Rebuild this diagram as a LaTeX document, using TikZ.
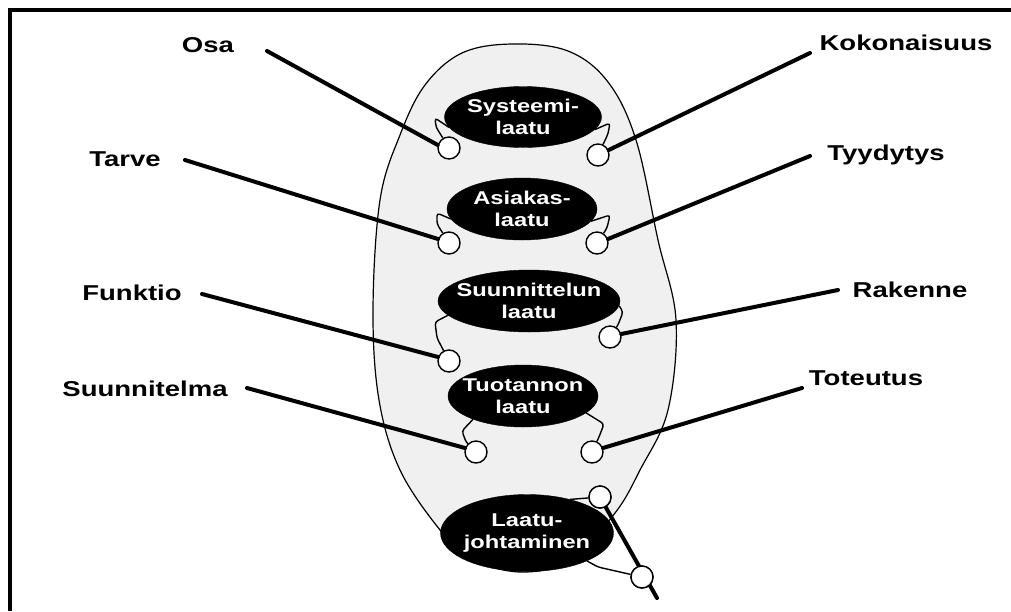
\documentclass[tikz,border=0pt]{standalone}
\usepackage{fontspec}
\setmainfont{Liberation Sans}
\usetikzlibrary{shapes.geometric}
\tikzset{
  lbl/.style={font=\fontsize{21.5}{21.5}\selectfont\bfseries, inner sep=0pt},
  inn/.style={font=\fontsize{18.5}{22}\selectfont\bfseries, text=white, align=center, inner sep=0pt},
  blob/.style={ellipse, fill=black, draw=black, inner sep=0pt},
  knob/.style={circle, draw=black, fill=white, line width=1.4pt, minimum size=22pt, inner sep=0pt},
  arm/.style={line width=4pt, line cap=round},
  wig/.style={line width=1.4pt, rounded corners=3pt},
}
\newcommand{\wid}[1]{\scalebox{1.28}[1]{#1}}
\begin{document}
\begin{tikzpicture}[x=1pt,y=-1pt]
\useasboundingbox (0,0) rectangle (1011,611);
% frame
\draw[line width=3.3pt] (10,611) -- (10,10) -- (1011,10);
% big outline
\filldraw[fill=gray!12, draw=black, line width=1.2pt] plot[smooth cycle, tension=0.6] coordinates {
 (512,44) (568,51) (608,82) (636,140) (658,240) (676,320) (668,410) (640,470)
 (615,513) (570,560) (520,572) (470,558) (440,530) (400,470) (379,400) (373,310)
 (380,200) (400,135) (425,85) (462,53)};
% black ellipses
\node[blob, minimum width=157pt, minimum height=61pt] (e1) at (523,117) {};
\node[blob, minimum width=150pt, minimum height=62pt] (e2) at (522,209) {};
\node[blob, minimum width=182pt, minimum height=62pt] (e3) at (529,301) {};
\node[blob, minimum width=150pt, minimum height=62pt] (e4) at (523,396) {};
\node[inn] (t1) at (e1) {\wid{Systeemi-}\\\wid{laatu}};
\node[inn] (t2) at (e2) {\wid{Asiakas-}\\\wid{laatu}};
\node[inn] (t3) at (e3) {\wid{Suunnittelun}\\\wid{laatu}};
\node[inn] (t4) at (e4) {\wid{Tuotannon}\\\wid{laatu}};
% knobs
\node[knob] (k1l) at (449,148) {};
\node[knob] (k1r) at (598,155) {};
\node[knob] (k2l) at (449,243) {};
\node[knob] (k2r) at (597,243) {};
\node[knob] (k3l) at (449,361) {};
\node[knob] (k3r) at (610,337) {};
\node[knob] (k4l) at (476,452) {};
\node[knob] (k4r) at (592,452) {};
% wiggles
\draw[wig] (e1.188) -- (435,118) -- (436,127) -- (k1l);
\draw[wig] (e1.-10) -- (610,123) -- (608,134) -- (k1r);
\draw[wig] (e2.188) -- (437,213) -- (437,224) -- (k2l);
\draw[wig] (e2.-10) -- (610,215) -- (607,228) -- (k2r);
\draw[wig] (e3.190) -- (435,322) -- (437,338) -- (k3l);
\draw[wig] (e3.-3) -- (623,312) -- (618,325) -- (k3r);
\draw[wig] (e4.205) -- (462,431) -- (466,442) -- (k4l);
\draw[wig] (e4.-15) -- (604,424) -- (599,437) -- (k4r);
% bottom group
\node[knob] (k5t) at (600,497) {};
\node[knob] (k5b) at (642,577) {};
\coordinate (tail) at (657,598);
\draw[arm] (k5t.center) -- (tail);
\node[knob] at (k5t) {};
\node[knob] at (k5b) {};
\node[blob, minimum width=173pt, minimum height=77pt] (e5) at (527,533) {};
\node[inn] (t5) at (e5) {\wid{Laatu-}\\\wid{johtaminen}};
\draw[wig] (e5.38) -- (k5t);
\draw[wig] (e5.-25) -- (598,567) -- (k5b);
% labels
\node[lbl] (osa) at (208,45) {\wid{Osa}};
\node[lbl] (kok) at (906,43) {\wid{Kokonaisuus}};
\node[lbl] (tar) at (125,159) {\wid{Tarve}};
\node[lbl] (tyy) at (886,155) {\wid{Tyydytys}};
\node[lbl] (fun) at (132,293) {\wid{Funktio}};
\node[lbl] (rak) at (910,290) {\wid{Rakenne}};
\node[lbl] (suu) at (145,389) {\wid{Suunnitelma}};
\node[lbl] (tot) at (866,378) {\wid{Toteutus}};
\coordinate (osaS) at (267,51);
\coordinate (kokS) at (810,53);
\coordinate (tarS) at (185,160);
\coordinate (tyyS) at (810,156);
\coordinate (funS) at (202,294);
\coordinate (rakS) at (838,290);
\coordinate (suuS) at (247,388);
\coordinate (totS) at (802,388);
\draw[arm] (osaS) -- (k1l.165);
\draw[arm] (kokS) -- (k1r.25);
\draw[arm] (tarS) -- (k2l.160);
\draw[arm] (tyyS) -- (k2r.20);
\draw[arm] (funS) -- (k3l.160);
\draw[arm] (rakS) -- (k3r.15);
\draw[arm] (suuS) -- (k4l.160);
\draw[arm] (totS) -- (k4r.20);
\end{tikzpicture}
\end{document}
